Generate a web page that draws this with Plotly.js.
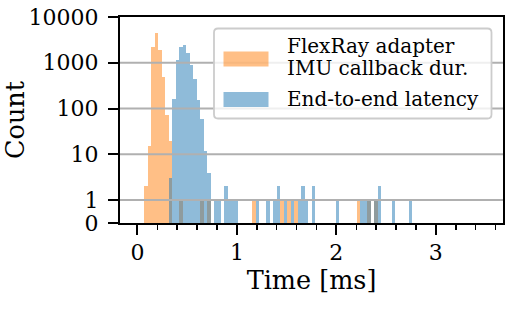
<!DOCTYPE html>
<html>
<head>
<meta charset="utf-8">
<script src="https://cdn.plot.ly/plotly-3.0.1.min.js"></script>
<style>html,body{margin:0;padding:0;background:#fff}#chart{width:512px;height:315px}</style>
</head>
<body>
<div id="chart"></div>
<script>
// Histogram bins: 100 bins of 0.035 ms from 0 to 3.5 ms (only non-empty bins listed)
const BIN_START = 0;
const BIN_WIDTH = 0.035;

const seriesNames = ["FlexRay adapter\nIMU callback dur.", "End-to-end latency"];

const orangeBins   = [2, 3, 4, 5, 6, 7, 8, 9, 12, 18, 20, 33, 41, 43, 45, 63, 66, 68];
const orangeCounts = [2, 15, 2240, 4370, 1890, 495, 72, 20, 1, 1, 1, 1, 1, 1, 1, 1, 1, 1];

const blueBins   = [9, 10, 11, 12, 13, 14, 15, 16, 17, 18, 19, 20, 22, 23, 25, 26, 27, 28,
                    34, 37, 39, 40, 42, 44, 46, 47, 48, 50, 57, 64, 65, 66, 68, 69, 73, 78];
const blueCounts = [3, 165, 1140, 2240, 2430, 1600, 900, 440, 153, 60, 12, 4, 1, 1, 2, 1, 1, 1,
                    1, 1, 1, 2, 1, 1, 1, 2, 1, 2, 1, 1, 1, 1, 1, 2, 1, 1];

const yTickCounts = [0, 1, 10, 100, 1000, 10000];
const yTickLabels = ["0", "1", "10", "100", "1000", "10000"];
const xTickVals = [0, 1, 2, 3];
const xTickLabels = ["0", "1", "2", "3"];

// symmetric-log y scale (linear below 1, log above)
const LIN = 0.5;
function symlog(c) { return c <= 1 ? c * LIN : LIN + Math.log10(c); }

function centers(bins) { return bins.map(k => BIN_START + (k + 0.5) * BIN_WIDTH); }

const FONT = "DejaVu Serif";
const ORANGE = "rgba(255,127,14,0.5)";
const BLUE = "rgba(31,119,180,0.5)";

const W = 512, H = 315;
const M = {l: 120, r: 9, t: 17, b: 92};
const PW = W - M.l - M.r, PH = H - M.t - M.b;
function px(x) { return (x - M.l) / PW; }
function py(y) { return (H - M.b - y) / PH; }

const traces = [
  {type: "bar", name: seriesNames[0], x: centers(orangeBins), y: orangeCounts.map(symlog),
   width: BIN_WIDTH, marker: {color: ORANGE, line: {width: 0}}, showlegend: false, hoverinfo: "skip"},
  {type: "bar", name: seriesNames[1], x: centers(blueBins), y: blueCounts.map(symlog),
   width: BIN_WIDTH, marker: {color: BLUE, line: {width: 0}}, showlegend: false, hoverinfo: "skip"}
];

const shapes = [];
// grid lines above bars (matplotlib default)
yTickCounts.slice(1, -1).forEach(c => {
  shapes.push({type: "line", xref: "paper", yref: "y", x0: 0, x1: 1, y0: symlog(c), y1: symlog(c),
               line: {color: "#b0b0b0", width: 2}, layer: "above"});
});
// legend frame (rounded)
const bx0 = px(214), bx1 = px(491.5), by0 = py(118.5), by1 = py(28.5);
const rx = 4 / PW, ry = 4 / PH;
shapes.push({type: "path", xref: "paper", yref: "paper", layer: "above",
  path: `M${bx0+rx},${by1} L${bx1-rx},${by1} Q${bx1},${by1} ${bx1},${by1-ry} L${bx1},${by0+ry} Q${bx1},${by0} ${bx1-rx},${by0} L${bx0+rx},${by0} Q${bx0},${by0} ${bx0},${by0+ry} L${bx0},${by1-ry} Q${bx0},${by1} ${bx0+rx},${by1} Z`,
  fillcolor: "rgba(255,255,255,0.8)", line: {color: "#cccccc", width: 1.8}});
// legend patches
shapes.push({type: "rect", xref: "paper", yref: "paper", layer: "above",
  x0: px(223.5), x1: px(268.5), y0: py(66.5), y1: py(51.5), fillcolor: ORANGE, line: {width: 0}});
shapes.push({type: "rect", xref: "paper", yref: "paper", layer: "above",
  x0: px(223.5), x1: px(268.5), y0: py(107), y1: py(92), fillcolor: BLUE, line: {width: 0}});

const legendLines = seriesNames[0].split("\n").concat([seriesNames[1]]);
const legendY = [46, 68, 99];
const annotations = legendLines.map((t, i) => ({
  text: t, xref: "paper", yref: "paper", x: px(285), y: py(legendY[i]),
  xanchor: "left", yanchor: "middle", showarrow: false,
  font: {family: FONT, size: 20, color: "#000"}
}));

const layout = {
  width: W, height: H, margin: M,
  paper_bgcolor: "#fff", plot_bgcolor: "#fff",
  barmode: "overlay", bargap: 0, showlegend: false,
  font: {family: FONT, color: "#000"},
  xaxis: {
    range: [-0.175, 3.675], tickmode: "array", tickvals: xTickVals, ticktext: xTickLabels,
    ticks: "outside", ticklen: 10, tickwidth: 2, tickcolor: "#000",
    showline: true, linewidth: 2, linecolor: "#000", mirror: true,
    showgrid: false, zeroline: false, ticklabelstandoff: -1,
    tickfont: {family: FONT, size: 22, color: "#000"},
    minor: {dtick: 0.2, tick0: 0, ticks: "outside", ticklen: 5, tickwidth: 1.5, tickcolor: "#000", showgrid: false},
    title: {text: "Time [ms]", font: {family: FONT, size: 25.5, color: "#000"}, standoff: 6},
    layer: "above traces"
  },
  yaxis: {
    range: [0, symlog(10000)], tickmode: "array",
    tickvals: yTickCounts.map(symlog), ticktext: yTickLabels,
    ticks: "outside", ticklen: 10, tickwidth: 2, tickcolor: "#000",
    showline: true, linewidth: 2, linecolor: "#000", mirror: true,
    showgrid: false, zeroline: false, ticklabelstandoff: 5,
    tickfont: {family: FONT, size: 22, color: "#000"},
    title: {text: "Count", font: {family: FONT, size: 25.5, color: "#000"}, standoff: 8},
    layer: "above traces"
  },
  shapes: shapes,
  annotations: annotations
};

Plotly.newPlot("chart", traces, layout, {staticPlot: true, displayModeBar: false});
</script>
</body>
</html>
